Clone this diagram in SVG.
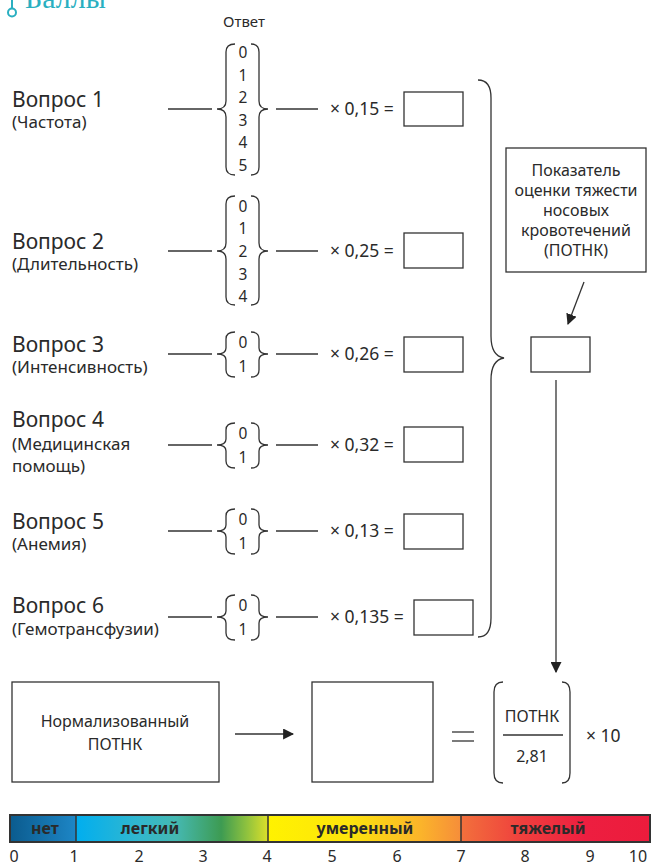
<svg xmlns="http://www.w3.org/2000/svg" width="651" height="867" viewBox="0 0 651 867">
  <style>
    text { font-family: "Noto Sans", "Open Sans", sans-serif; fill: #2a2a2a; }
    .q { font-size: 21px; }
    .sub { font-size: 17px; }
    .lbl { font-size: 16px; text-anchor: middle; }
    .num { font-size: 15.5px; text-anchor: middle; }
    .mul { font-size: 17.5px; }
    .box { fill: #fff; stroke: #333; stroke-width: 1.3; }
    .ln { fill: none; stroke: #333; stroke-width: 1.3; }
    .bar { font-size: 16px; font-weight: bold; text-anchor: middle; fill: #2a2a2a; }
    .tick { font-size: 16px; text-anchor: middle; }
  </style>
  <defs>
    <marker id="arr" viewBox="0 0 10 10" refX="9" refY="5" markerWidth="11" markerHeight="11" markerUnits="userSpaceOnUse" orient="auto">
      <path d="M0,0 L10,5 L0,10 Z" fill="#222"/>
    </marker>
    <linearGradient id="scale" gradientUnits="userSpaceOnUse" x1="10" y1="0" x2="650" y2="0">
      <stop offset="0" stop-color="#0b5b8e"/>
      <stop offset="0.103" stop-color="#1d86c6"/>
      <stop offset="0.103" stop-color="#00aeef"/>
      <stop offset="0.2" stop-color="#31b7cf"/>
      <stop offset="0.26" stop-color="#45b8b0"/>
      <stop offset="0.33" stop-color="#3d9b52"/>
      <stop offset="0.37" stop-color="#8fc23e"/>
      <stop offset="0.403" stop-color="#dcdf2a"/>
      <stop offset="0.403" stop-color="#fff200"/>
      <stop offset="0.53" stop-color="#fde40c"/>
      <stop offset="0.64" stop-color="#fbb52a"/>
      <stop offset="0.705" stop-color="#f68d3a"/>
      <stop offset="0.705" stop-color="#f2703c"/>
      <stop offset="0.8" stop-color="#ef3f3d"/>
      <stop offset="0.9" stop-color="#ed1e40"/>
      <stop offset="1" stop-color="#ec1c3c"/>
    </linearGradient>
  </defs>

  <!-- section heading, running off the top edge -->
  <g id="heading">
    <line x1="12" y1="0" x2="12" y2="8" stroke="#2aafc1" stroke-width="2"/>
    <circle cx="12" cy="12.5" r="4" fill="none" stroke="#2aafc1" stroke-width="2"/>
    <text x="25" y="8" style="font-family:'Liberation Serif',serif;font-size:30px;fill:#2aafc1">Баллы</text>
  </g>

  <text x="244" y="27" class="lbl" style="font-size:15px">Ответ</text>

  <!-- question 1 -->
  <g id="q1">
    <text x="12" y="107" class="q">Вопрос 1</text>
    <text x="12" y="128" class="sub">(Частота)</text>
    <path class="ln" d="M235,44 Q226,44 226,52 L226,101 Q226,109 217,109 Q226,109 226,117 L226,167 Q226,175 235,175"/>
    <path class="ln" d="M251,44 Q259,44 259,52 L259,101 Q259,109 268,109 Q259,109 259,117 L259,167 Q259,175 251,175"/>
    <text x="243" y="58" class="num">0</text>
    <text x="243" y="81" class="num">1</text>
    <text x="243" y="103" class="num">2</text>
    <text x="243" y="126" class="num">3</text>
    <text x="243" y="148" class="num">4</text>
    <text x="243" y="171" class="num">5</text>
    <text x="330" y="115" class="mul">× 0,15 =</text>
    <rect class="box" x="404" y="92" width="59" height="34"/>
  </g>

  <!-- question 2 -->
  <g id="q2">
    <text x="12" y="249" class="q">Вопрос 2</text>
    <text x="12" y="270" class="sub">(Длительность)</text>
    <path class="ln" d="M235,196 Q226,196 226,204 L226,243 Q226,251 217,251 Q226,251 226,259 L226,297 Q226,305 235,305"/>
    <path class="ln" d="M251,196 Q259,196 259,204 L259,243 Q259,251 268,251 Q259,251 259,259 L259,297 Q259,305 251,305"/>
    <text x="243" y="212" class="num">0</text>
    <text x="243" y="234" class="num">1</text>
    <text x="243" y="257" class="num">2</text>
    <text x="243" y="280" class="num">3</text>
    <text x="243" y="302" class="num">4</text>
    <text x="330" y="257" class="mul">× 0,25 =</text>
    <rect class="box" x="404" y="233" width="59" height="35"/>
  </g>

  <!-- question 3 -->
  <g id="q3">
    <text x="12" y="352" class="q">Вопрос 3</text>
    <text x="12" y="373" class="sub">(Интенсивность)</text>
    <path class="ln" d="M235,332 Q226,332 226,339 L226,348 Q226,354 217,354 Q226,354 226,360 L226,370 Q226,377 235,377"/>
    <path class="ln" d="M251,332 Q259,332 259,339 L259,348 Q259,354 268,354 Q259,354 259,360 L259,370 Q259,377 251,377"/>
    <text x="243" y="348" class="num">0</text>
    <text x="243" y="372" class="num">1</text>
    <text x="330" y="360" class="mul">× 0,26 =</text>
    <rect class="box" x="404" y="337" width="59" height="35"/>
  </g>

  <!-- question 4 -->
  <g id="q4">
    <text x="12" y="427" class="q">Вопрос 4</text>
    <text x="12" y="450" class="sub">(Медицинская</text>
    <text x="12" y="472" class="sub">помощь)</text>
    <path class="ln" d="M235,423 Q226,423 226,430 L226,439 Q226,445 217,445 Q226,445 226,451 L226,461 Q226,468 235,468"/>
    <path class="ln" d="M251,423 Q259,423 259,430 L259,439 Q259,445 268,445 Q259,445 259,451 L259,461 Q259,468 251,468"/>
    <text x="243" y="439" class="num">0</text>
    <text x="243" y="463" class="num">1</text>
    <text x="330" y="451" class="mul">× 0,32 =</text>
    <rect class="box" x="404" y="427" width="59" height="35"/>
  </g>

  <!-- question 5 -->
  <g id="q5">
    <text x="12" y="529" class="q">Вопрос 5</text>
    <text x="12" y="550" class="sub">(Анемия)</text>
    <path class="ln" d="M235,509 Q226,509 226,516 L226,525 Q226,531 217,531 Q226,531 226,537 L226,547 Q226,554 235,554"/>
    <path class="ln" d="M251,509 Q259,509 259,516 L259,525 Q259,531 268,531 Q259,531 259,537 L259,547 Q259,554 251,554"/>
    <text x="243" y="525" class="num">0</text>
    <text x="243" y="549" class="num">1</text>
    <text x="330" y="537" class="mul">× 0,13 =</text>
    <rect class="box" x="404" y="514" width="59" height="35"/>
  </g>

  <!-- question 6 -->
  <g id="q6">
    <text x="12" y="613" class="q">Вопрос 6</text>
    <text x="12" y="635" class="sub">(Гемотрансфузии)</text>
    <path class="ln" d="M235,595 Q226,595 226,602 L226,611 Q226,617 217,617 Q226,617 226,623 L226,633 Q226,640 235,640"/>
    <path class="ln" d="M251,595 Q259,595 259,602 L259,611 Q259,617 268,617 Q259,617 259,623 L259,633 Q259,640 251,640"/>
    <text x="243" y="611" class="num">0</text>
    <text x="243" y="635" class="num">1</text>
    <text x="330" y="623" class="mul">× 0,135 =</text>
    <rect class="box" x="414" y="600" width="59" height="35"/>
  </g>

  <!-- score index -->
  <g id="index-label">
    <rect class="box" x="506" y="148" width="140" height="124"/>
    <text x="576" y="176" class="lbl">Показатель</text>
    <text x="576" y="196" class="lbl">оценки тяжести</text>
    <text x="576" y="216" class="lbl">носовых</text>
    <text x="576" y="236" class="lbl">кровотечений</text>
    <text x="576" y="256" class="lbl">(ПОТНК)</text>
  </g>
  <g id="index-sum">
    <rect class="box" x="531" y="337" width="59" height="35"/>
  </g>

  <!-- normalised score -->
  <g id="normalized-label">
    <rect class="box" x="12" y="682" width="207" height="100"/>
    <text x="115" y="727" class="lbl">Нормализованный</text>
    <text x="115" y="750" class="lbl">ПОТНК</text>
  </g>
  <g id="normalized-value">
    <rect class="box" x="312" y="682" width="121" height="100"/>
  </g>
  <g id="formula">
    <line class="ln" x1="452" y1="732" x2="474" y2="732"/>
    <line class="ln" x1="452" y1="741" x2="474" y2="741"/>
    <path class="ln" d="M503,682 Q494,682 494,692 L494,773 Q494,783 503,783"/>
    <path class="ln" d="M562,682 Q570,682 570,692 L570,773 Q570,783 562,783"/>
    <text x="532" y="722" class="lbl">ПОТНК</text>
    <line class="ln" x1="503" y1="735" x2="563" y2="735"/>
    <text x="532" y="762" class="lbl">2,81</text>
    <text x="586" y="742" class="mul">× 10</text>
  </g>

  <!-- connectors -->
  <g id="connectors">
    <line class="ln" x1="168" y1="109" x2="212" y2="109"/>
    <line class="ln" x1="276" y1="109" x2="318" y2="109"/>
    <line class="ln" x1="168" y1="251" x2="212" y2="251"/>
    <line class="ln" x1="276" y1="251" x2="318" y2="251"/>
    <line class="ln" x1="168" y1="354" x2="212" y2="354"/>
    <line class="ln" x1="276" y1="354" x2="318" y2="354"/>
    <line class="ln" x1="168" y1="445" x2="212" y2="445"/>
    <line class="ln" x1="276" y1="445" x2="318" y2="445"/>
    <line class="ln" x1="168" y1="531" x2="212" y2="531"/>
    <line class="ln" x1="276" y1="531" x2="318" y2="531"/>
    <line class="ln" x1="168" y1="617" x2="212" y2="617"/>
    <line class="ln" x1="276" y1="617" x2="318" y2="617"/>
    <!-- brace gathering all six products -->
    <path class="ln" d="M478,80 Q491,80 491,98 L491,336 Q491,356 504,358 Q491,360 491,380 L491,618 Q491,637 478,637"/>
    <line class="ln" x1="584" y1="282" x2="568" y2="324" marker-end="url(#arr)"/>
    <line class="ln" x1="556" y1="380" x2="556" y2="672" marker-end="url(#arr)"/>
    <line class="ln" x1="235" y1="734" x2="293" y2="734" marker-end="url(#arr)"/>
  </g>

  <!-- severity scale -->
  <g id="scale-bar">
    <rect x="10" y="815" width="640" height="27" fill="url(#scale)" stroke="#333" stroke-width="2"/>
    <line x1="76" y1="815" x2="76" y2="842" stroke="#333" stroke-width="1.5"/>
    <line x1="268" y1="815" x2="268" y2="842" stroke="#333" stroke-width="1.5"/>
    <line x1="461" y1="815" x2="461" y2="842" stroke="#333" stroke-width="1.5"/>
    <text x="45" y="834" class="bar">нет</text>
    <text x="150" y="834" class="bar">легкий</text>
    <text x="365" y="834" class="bar">умеренный</text>
    <text x="548" y="834" class="bar">тяжелый</text>
    <text x="14" y="862" class="tick">0</text>
    <text x="74" y="862" class="tick">1</text>
    <text x="139" y="862" class="tick">2</text>
    <text x="203" y="862" class="tick">3</text>
    <text x="267" y="862" class="tick">4</text>
    <text x="332" y="862" class="tick">5</text>
    <text x="397" y="862" class="tick">6</text>
    <text x="461" y="862" class="tick">7</text>
    <text x="525" y="862" class="tick">8</text>
    <text x="590" y="862" class="tick">9</text>
    <text x="638" y="862" class="tick">10</text>
  </g>
</svg>
